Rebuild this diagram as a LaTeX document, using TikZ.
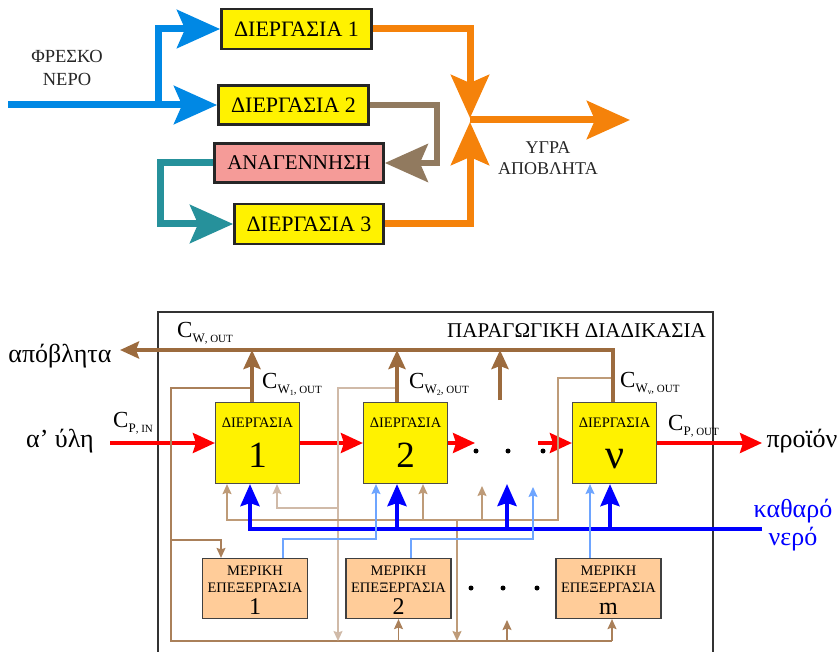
\documentclass[tikz,border=0pt]{standalone}
\usepackage{fontspec}
\setmainfont{Liberation Serif}
\usetikzlibrary{arrows.meta,calc}

\definecolor{pipeblue}{RGB}{0,136,228}
\definecolor{pipeorange}{RGB}{245,130,10}
\definecolor{pipetaupe}{RGB}{145,122,95}
\definecolor{pipeteal}{RGB}{38,145,155}
\definecolor{regenpink}{RGB}{245,155,152}
\definecolor{wastebrown}{RGB}{156,107,62}
\definecolor{recycA}{RGB}{170,128,90}
\definecolor{recycB}{RGB}{208,186,168}
\definecolor{recycC}{RGB}{190,155,120}
\definecolor{feedred}{RGB}{255,0,0}
\definecolor{cleanblue}{RGB}{0,0,255}
\definecolor{partblue}{RGB}{110,165,255}
\definecolor{partfill}{RGB}{255,204,153}

\newcommand\fs[1]{\fontsize{#1}{#1}\selectfont}
% concentration label: big C with a two-level subscript
\newcommand\Conc[2]{{\fs{23}C}\raisebox{-5pt}{\fs{13}#1{\fs{11}#2}}}

\begin{document}
\begin{tikzpicture}[x=1pt,y=-1pt,
  topbox/.style={draw=black!85, line width=2.8pt, fill=yellow, inner sep=0pt, font=\fs{22}},
  procbox/.style={draw=black!70, line width=1.2pt, fill=yellow, minimum width=84pt, minimum height=81pt, inner sep=0pt},
  subbox/.style={draw=black!75, line width=1.2pt, fill=partfill, minimum width=105pt, minimum height=60pt, inner sep=0pt},
  lbl/.style={inner sep=0pt},
  bigtip/.style={-{Stealth[length=43pt,width=38pt,inset=8pt]}},
  bluepipe/.style={draw=pipeblue, line width=7pt, bigtip},
  orangepipe/.style={draw=pipeorange, line width=7pt, bigtip},
  taupepipe/.style={draw=pipetaupe, line width=6pt, bigtip},
  tealpipe/.style={draw=pipeteal, line width=7pt, bigtip},
  brownthick/.style={draw=wastebrown, line width=4pt, -{Stealth[length=19pt,width=17pt,inset=3pt]}},
  bluethick/.style={draw=cleanblue, line width=4pt, -{Stealth[length=22pt,width=19pt,inset=3pt]}},
  redarrow/.style={draw=feedred, line width=3.5pt, -{Stealth[length=22pt,width=20pt,inset=3pt]}},
  thintip/.style={-{Stealth[length=10pt,width=9pt,inset=1.5pt]}},
  recA/.style={draw=recycA, line width=1.5pt},
  recB/.style={draw=recycB, line width=1.5pt},
  recC/.style={draw=recycC, line width=1.5pt},
  partline/.style={draw=partblue, line width=1.3pt, thintip},
  dot/.style={circle, fill=black, inner sep=0pt, minimum size=5pt}
]
\useasboundingbox (0,0) rectangle (840,652);

% ---------------- water reuse with regeneration ----------------
\node[topbox, minimum width=150pt, minimum height=40pt] (box1) at (296.5,29) {ΔΙΕΡΓΑΣΙΑ 1};
\node[topbox, minimum width=150pt, minimum height=39pt] (box2) at (293.5,105) {ΔΙΕΡΓΑΣΙΑ 2};
\node[topbox, fill=regenpink, minimum width=169pt, minimum height=39pt, font=\fs{21}] (anag) at (299,163) {ΑΝΑΓΕΝΝΗΣΗ};
\node[topbox, minimum width=149pt, minimum height=40pt] (box3) at (309,224) {ΔΙΕΡΓΑΣΙΑ 3};

\node[lbl, align=center, font=\fs{18.5}, text=black!85] (fresh) at (67,68) {ΦΡΕΣΚΟ\\[4pt]ΝΕΡΟ};
\node[lbl, align=center, font=\fs{18}, text=black!85] (wet) at (548,158) {ΥΓΡΑ\\[3pt]ΑΠΟΒΛΗΤΑ};

\coordinate (freshin) at (8,105);
\coordinate (split) at (158,105);
\draw[bluepipe] (freshin) -- (box2.west);
\draw[bluepipe] (split) |- (box1.west);

\coordinate (taupebend) at (437,163);
\draw[taupepipe] (box2.east) -| (taupebend) -- (anag.east);

\coordinate (tealbend) at (160,224);
\draw[tealpipe] (anag.west) -| (tealbend) -- (box3.west);

\coordinate (jtop) at (470,118);
\coordinate (jbot) at (470,122);
\coordinate (jmid) at (470,120);
\coordinate (wasteout) at (630,120);
\draw[orangepipe] (box1.east) -| (jtop);
\draw[orangepipe] (box3.east) -| (jbot);
\draw[orangepipe] (jmid) -- (wasteout);

% ---------------- production process with partial treatment ----------------
\draw[black!80, line width=1.2pt] (158,653) -- (158,312) -- (713,312) -- (713,653);
\node[lbl, anchor=base east, font=\fs{21}] (title) at (706,337) {ΠΑΡΑΓΩΓΙΚΗ ΔΙΑΔΙΚΑΣΙΑ};

\node[procbox] (p1) at (257.5,443) {};
\node[procbox] (p2) at (405.5,443) {};
\node[procbox] (pn) at (614.5,443) {};
\foreach \p/\n in {p1/1, p2/2} {
  \node[lbl, anchor=base, font=\fs{14.5}] (\p t) at ($(\p.center)+(0,-16)$) {ΔΙΕΡΓΑΣΙΑ};
  \node[lbl, anchor=base, font=\fs{37}] (\p n) at ($(\p.center)+(0,24)$) {\n};
}
\node[lbl, anchor=base, font=\fs{14.5}] (pnt) at ($(pn.center)+(0,-16)$) {ΔΙΕΡΓΑΣΙΑ};
\node[lbl, anchor=base, font=\fs{42}] (pnn) at ($(pn.center)+(0,25)$) {ν};

\node[subbox] (m1) at (255,588.5) {};
\node[subbox] (m2) at (398.5,588.5) {};
\node[subbox] (mm) at (608.5,588.5) {};
\foreach \m/\n in {m1/1, m2/2, mm/m} {
  \node[lbl, anchor=base, font=\fs{14.5}] (\m a) at ($(\m.center)+(0,-13.5)$) {ΜΕΡΙΚΗ};
  \node[lbl, anchor=base, font=\fs{14.5}] (\m b) at ($(\m.center)+(0,3.5)$) {ΕΠΕΞΕΡΓΑΣΙΑ};
  \node[lbl, anchor=base, font=\fs{24}] (\m c) at ($(\m.center)+(0,25.5)$) {\n};
}

% dots for the omitted stages
\node[dot] (d1) at (476,451) {};
\node[dot] (d2) at (508,451) {};
\node[dot] (d3) at (543,451) {};
\node[dot] (e1) at (471,588) {};
\node[dot] (e2) at (503,588) {};
\node[dot] (e3) at (537,588) {};

% outer labels
\node[lbl, anchor=base, font=\fs{26}] (waste) at (60,362) {απόβλητα};
\node[lbl, anchor=base, font=\fs{26}] (raw) at (60,447) {α' ύλη};
\node[lbl, anchor=base, font=\fs{26}] (prod) at (802,447) {προϊόν};
\node[lbl, align=center, font=\fs{26}, text=cleanblue] (clean) at (793,525) {καθαρό\\[2pt]νερό};

% concentration labels
\node[lbl, anchor=base west] (cwout) at (177,337) {\Conc{W}{, OUT}};
\node[lbl, anchor=base west] (cw1) at (262,388) {\Conc{W\raisebox{-2pt}{\fs{8}1}}{, OUT}};
\node[lbl, anchor=base west] (cw2) at (409,388) {\Conc{W\raisebox{-2pt}{\fs{8}2}}{, OUT}};
\node[lbl, anchor=base west] (cwn) at (620,387) {\Conc{W\raisebox{-2pt}{\fs{8}ν}}{, OUT}};
\node[lbl, anchor=base west] (cpin) at (113,427) {\Conc{P}{, IN}};
\node[lbl, anchor=base west] (cpout) at (668,430) {\Conc{P}{, OUT}};

% main product stream
\coordinate (feedin) at (110,443);
\coordinate (dotsA) at (475,443);
\coordinate (dotsB) at (538,443);
\coordinate (prodout) at (762,443);
\draw[redarrow] (feedin) -- (p1.west);
\draw[redarrow] (p1.east) -- (p2.west);
\draw[redarrow] (p2.east) -- (dotsA);
\draw[redarrow] (dotsB) -- (pn.west);
\draw[redarrow] (pn.east) -- (prodout);

% recycled streams
\coordinate (w1tap) at (252,388);
\coordinate (busL) at (171,641);
\coordinate (busR) at (612,641);
\coordinate (m1feed) at (171,540);
\draw[recA] (w1tap) -| (busL) -- (busR);
\draw[recA, thintip] (m1feed) -| ([xshift=-34pt]m1.north);
\draw[recA, thintip] (busR) -- (busR |- mm.south);
\draw[recA, thintip] (m2.south |- busL) -- (m2.south);
\coordinate (busup) at (507,641);
\draw[recA, thintip] (busup) -- (507,620);

\coordinate (w2tap) at (397,388);
\coordinate (w2drop) at (338,641);
\coordinate (w2fork) at (338,508);
\draw[recB, thintip] (w2tap) -| (w2drop);
\draw[recB, thintip] (w2fork) -| ([xshift=19.5pt]p1.south);

\coordinate (wntap) at (613,378);
\coordinate (wnbend) at (558,520);
\draw[recC, thintip] (wntap) -| (wnbend) -| ([xshift=-30.5pt]p1.south);
\draw[recC, thintip] ([xshift=17.5pt]p2.south |- wnbend) -- ([xshift=17.5pt]p2.south);
\coordinate (wnup) at (482,520);
\draw[recC, thintip] (wnup) -- (482,486);
\coordinate (wndown) at (457,520);
\draw[recC, thintip] (wndown) -- (wndown |- busL);

% clean water supply
\coordinate (cwin) at (762,529);
\draw[bluethick] (cwin) -| ([xshift=-7.5pt]p1.south);
\draw[bluethick] ([xshift=-8.5pt]p2.south |- cwin) -- ([xshift=-8.5pt]p2.south);
\coordinate (cwdots) at (507,529);
\draw[bluethick] (cwdots) -- (507,484);
\draw[bluethick] ([xshift=-4.5pt]pn.south |- cwin) -- ([xshift=-4.5pt]pn.south);

% partially treated water
\coordinate (lb1) at (376,539);
\coordinate (lb2) at (533,539);
\draw[partline] ([xshift=28pt]m1.north) |- (lb1) -- ([xshift=-29.5pt]p2.south);
\draw[partline] ([xshift=12.5pt]m2.north) |- (lb2) -- (533,487);
\draw[partline] ([xshift=-18.5pt]mm.north) -- ([xshift=-24.5pt]pn.south);

% wastewater collection
\coordinate (wasteend) at (120,350);
\draw[brownthick] ([xshift=-1.5pt]pn.north) |- (wasteend);
\draw[brownthick] ([xshift=-5.5pt]p1.north) -- ([xshift=-5.5pt]p1.north |- wasteend);
\draw[brownthick] ([xshift=-8.5pt]p2.north) -- ([xshift=-8.5pt]p2.north |- wasteend);
\coordinate (dotsW) at (500,400);
\draw[brownthick] (dotsW) -- (dotsW |- wasteend);
\end{tikzpicture}
\end{document}
